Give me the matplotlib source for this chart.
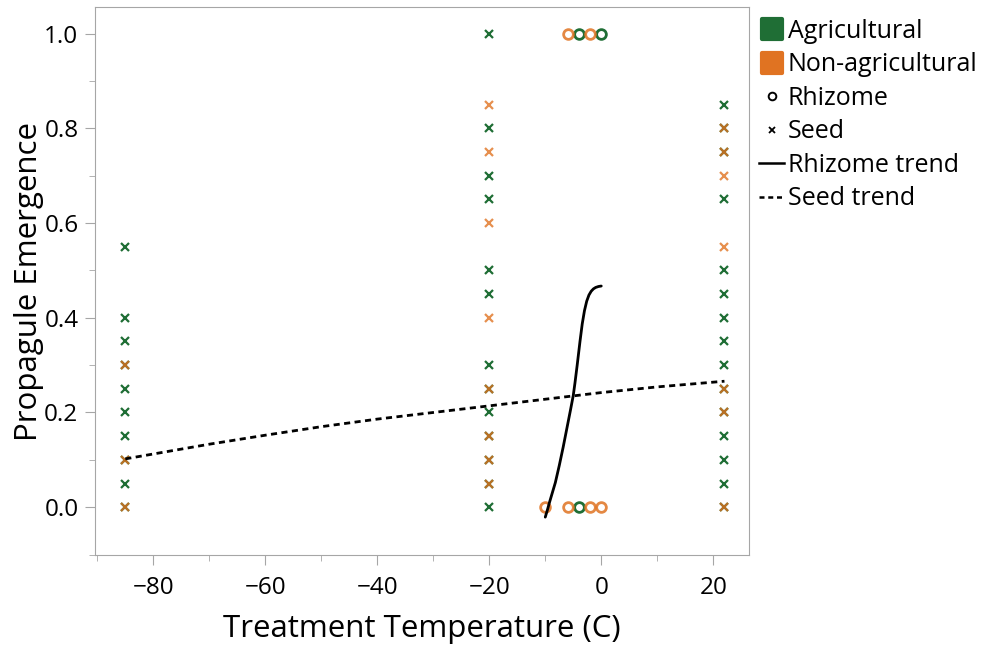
import matplotlib.pyplot as plt
from matplotlib.lines import Line2D
from matplotlib.markers import MarkerStyle

plt.rcParams['font.family'] = ['Open Sans', 'DejaVu Sans']

GREEN = '#1f6e35'
ORANGE = '#e07322'
GRID_GRAY = '#a6a6a6'

# --- seed emergence by treatment temperature ---
seed_temps = [-85, -20, 22]
seed_agri = {
    -85: [0.55, 0.40, 0.35, 0.30, 0.25, 0.20, 0.15, 0.10, 0.05, 0.0],
    -20: [1.0, 0.80, 0.70, 0.65, 0.50, 0.45, 0.30, 0.25, 0.20, 0.15, 0.10, 0.05, 0.0],
    22: [0.85, 0.80, 0.75, 0.65, 0.50, 0.45, 0.40, 0.35, 0.30, 0.25, 0.20, 0.15, 0.10, 0.05, 0.0],
}
seed_nonagri = {
    -85: [0.30, 0.10, 0.0],
    -20: [0.85, 0.75, 0.60, 0.40, 0.25, 0.15, 0.10, 0.05],
    22: [0.80, 0.75, 0.70, 0.55, 0.25, 0.20, 0.0],
}

# --- rhizome emergence ---
rhiz_agri_x = [-4, 0, -4]
rhiz_agri_y = [1.0, 1.0, 0.0]
rhiz_nonagri_x = [-6, -2, -10, -6, -2, 0]
rhiz_nonagri_y = [1.0, 1.0, 0.0, 0.0, 0.0, 0.0]

# --- fitted trends ---
rhiz_trend_x = [-10, -9.6, -9.3, -8.8, -8.2, -7.5, -6.8, -6.2, -5.5, -5.0,
                -4.7, -4.3, -3.8, -3.4, -3.0, -2.6, -2.2, -1.8, -1.4, -1.0, -0.5, 0]
rhiz_trend_y = [-0.021, -0.005, 0.008, 0.028, 0.052, 0.088, 0.127, 0.163, 0.205, 0.236,
                0.262, 0.300, 0.350, 0.387, 0.415, 0.435, 0.448, 0.456, 0.461, 0.464, 0.466, 0.467]
seed_trend_x = [-85, -70, -60, -50, -40, -30, -20, -10, 0, 10, 22]
seed_trend_y = [0.102, 0.133, 0.152, 0.170, 0.186, 0.200, 0.214, 0.228, 0.242, 0.254, 0.266]

fig = plt.figure(figsize=(9.88, 6.45), dpi=100)
ax = fig.add_axes([0.0962, 0.1395, 0.662, 0.8495])

for t in seed_temps:
    ys = seed_agri[t]
    ax.plot([t] * len(ys), ys, linestyle='none', marker='x', markersize=6,
            mew=1.6, color=GREEN)
for t in seed_temps:
    ys = seed_nonagri[t]
    ax.plot([t] * len(ys), ys, linestyle='none', marker='x', markersize=6,
            mew=1.6, color=ORANGE, alpha=0.8)

ax.plot(rhiz_agri_x, rhiz_agri_y, linestyle='none', marker='o', markersize=7,
        mfc='none', mew=2, color=GREEN)
ax.plot(rhiz_nonagri_x, rhiz_nonagri_y, linestyle='none', marker='o', markersize=7,
        mfc='none', mew=2, color=ORANGE, alpha=0.85)

ax.plot(rhiz_trend_x, rhiz_trend_y, color='black', lw=2, solid_capstyle='round')
ax.plot(seed_trend_x, seed_trend_y, color='black', lw=2, linestyle=(0, (2.2, 1.6)))

ax.set_xlim(-90.4, 26.4)
ax.set_ylim(-0.101, 1.056)
ax.set_xticks([-80, -60, -40, -20, 0, 20])
ax.set_xticks(range(-90, 30, 10), minor=True)
ax.set_yticks([0.0, 0.2, 0.4, 0.6, 0.8, 1.0])
ax.set_yticks([-0.1, 0.1, 0.3, 0.5, 0.7, 0.9], minor=True)
ax.set_yticklabels(['0.0', '0.2', '0.4', '0.6', '0.8', '1.0'])

for s in ax.spines.values():
    s.set_color(GRID_GRAY)
ax.tick_params(which='major', length=7, color=GRID_GRAY, labelsize=17.5, pad=5)
ax.tick_params(which='minor', length=4, color=GRID_GRAY)
ax.tick_params(axis='x', which='major', pad=8)

ax.set_xlabel('Treatment Temperature (C)', fontsize=22.5, labelpad=10)
ax.set_ylabel('Propagule Emergence', fontsize=22.5, labelpad=0)

sq = MarkerStyle('s', joinstyle='round')
handles = [
    Line2D([], [], linestyle='none', marker=sq, markersize=14, mew=3,
           color=GREEN),
    Line2D([], [], linestyle='none', marker=sq, markersize=14, mew=3,
           color=ORANGE),
    Line2D([], [], linestyle='none', marker='o', markersize=5.5, mfc='none',
           mew=1.4, color='black'),
    Line2D([], [], linestyle='none', marker='x', markersize=5, mew=1.3,
           color='black'),
    Line2D([], [], color='black', lw=1.8),
    Line2D([], [], color='black', lw=1.8, linestyle=(0, (2, 1.5))),
]
labels = ['Agricultural', 'Non-agricultural', 'Rhizome', 'Seed',
          'Rhizome trend', 'Seed trend']
fig.legend(handles, labels, loc='upper left', bbox_to_anchor=(0.757, 0.988),
           frameon=False, fontsize=18, handlelength=1.0, handletextpad=0.15,
           labelspacing=0.34, borderaxespad=0.15, borderpad=0.3)

fig.savefig('out.png', dpi=100)
